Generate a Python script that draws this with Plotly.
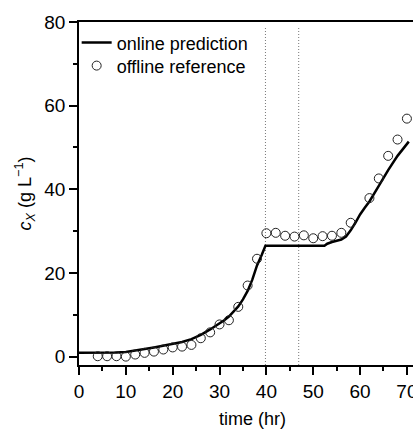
import plotly.graph_objects as go

# Online prediction (line)
pred_t = [0, 4, 8, 10, 12, 14, 16, 18, 20, 22, 24, 26, 28, 29, 30, 31, 32, 33, 34, 35, 36, 37, 38, 39, 39.8,
          52.4, 53, 54, 55, 56, 57, 58, 59, 60, 61, 62, 64, 66, 68, 70.4]
pred_c = [0.9, 0.9, 1.0, 1.1, 1.4, 1.8, 2.2, 2.6, 3.0, 3.5, 4.2, 5.2, 6.5, 7.2, 7.9, 8.7, 9.6, 10.7, 12.0, 13.7, 15.7, 18.4, 21.8, 24.3, 26.5,
          26.5, 27.0, 27.4, 27.7, 28.0, 28.7, 30.2, 32.0, 34.0, 35.6, 37.1, 40.8, 44.6, 48.0, 51.4]

# Offline reference (circles)
ref_t = [4, 6, 8, 10, 12, 14, 16, 18, 20, 22, 24, 26, 28, 30, 32, 34, 36, 38,
         40, 42, 44, 46, 48, 50, 52, 54, 56, 58, 62, 64, 66, 68, 70]
ref_c = [0.1, 0.1, 0.1, 0.0, 0.5, 0.9, 1.2, 1.7, 2.2, 2.4, 2.8, 4.4, 5.8, 7.7, 8.7, 11.9, 17.0, 23.4,
         29.5, 29.6, 28.9, 28.7, 29.0, 28.3, 28.8, 28.9, 29.6, 32.0, 37.9, 42.6, 48.0, 51.9, 56.9]

event_times = [39.8, 46.9]

x_ticks = [0, 10, 20, 30, 40, 50, 60, 70]
y_ticks = [0, 20, 40, 60, 80]

FONT = "Liberation Sans, Arial, sans-serif"

fig = go.Figure()
fig.add_trace(go.Scatter(x=pred_t, y=pred_c, mode="lines", name="online prediction",
                         line=dict(color="black", width=2.5), legend="legend"))
fig.add_trace(go.Scatter(x=ref_t, y=ref_c, mode="markers", name="offline reference",
                         marker=dict(symbol="circle-open", size=9, color="#222",
                                     line=dict(width=1, color="#222")), legend="legend2"))

for t in event_times:
    fig.add_shape(type="line", x0=t, x1=t, y0=-2, y1=78.7, xref="x", yref="y",
                  line=dict(color="#777", width=1, dash="1px,2px"), layer="below")

leg_common = dict(xanchor="left", yanchor="middle", font=dict(size=18, family=FONT),
                  bgcolor="rgba(0,0,0,0)", itemwidth=30)

fig.update_layout(
    width=413, height=430,
    margin=dict(l=79, r=0, t=22, b=65, autoexpand=False),
    paper_bgcolor="white", plot_bgcolor="white",
    font=dict(family=FONT, color="black", size=19),
    showlegend=True,
    legend=dict(x=-0.007, y=0.939, **leg_common),
    legend2=dict(x=-0.007, y=0.872, **leg_common),
    xaxis=dict(range=[0, 71.3], tickvals=x_ticks, showgrid=False, zeroline=False,
               showline=True, linecolor="black", linewidth=1.5, mirror=True,
               ticks="outside", ticklen=8, tickwidth=1.5, tickcolor="black",
               minor=dict(dtick=5, ticks="outside", ticklen=4, tickwidth=1.5, tickcolor="black"),
               tickfont=dict(size=19), ticklabeloverflow="allow", automargin=False),
    yaxis=dict(range=[-2, 80], tickvals=y_ticks, showgrid=False, zeroline=False,
               showline=True, linecolor="black", linewidth=1.5, mirror=False,
               ticks="outside", ticklen=8, tickwidth=1.5, tickcolor="black",
               minor=dict(dtick=10, tick0=0, ticks="outside", ticklen=4, tickwidth=1.5, tickcolor="black"),
               tickfont=dict(size=19), automargin=False,
               title=dict(text="<i>c</i><sub><i>X</i></sub> (g L<sup>−1</sup>)", font=dict(size=18), standoff=8)),
)

fig.add_annotation(text="time (hr)", xref="paper", yref="paper", x=0.518, y=-0.158,
                   xanchor="center", yanchor="middle", showarrow=False,
                   font=dict(size=18, family=FONT))

fig.write_html("out.html")
